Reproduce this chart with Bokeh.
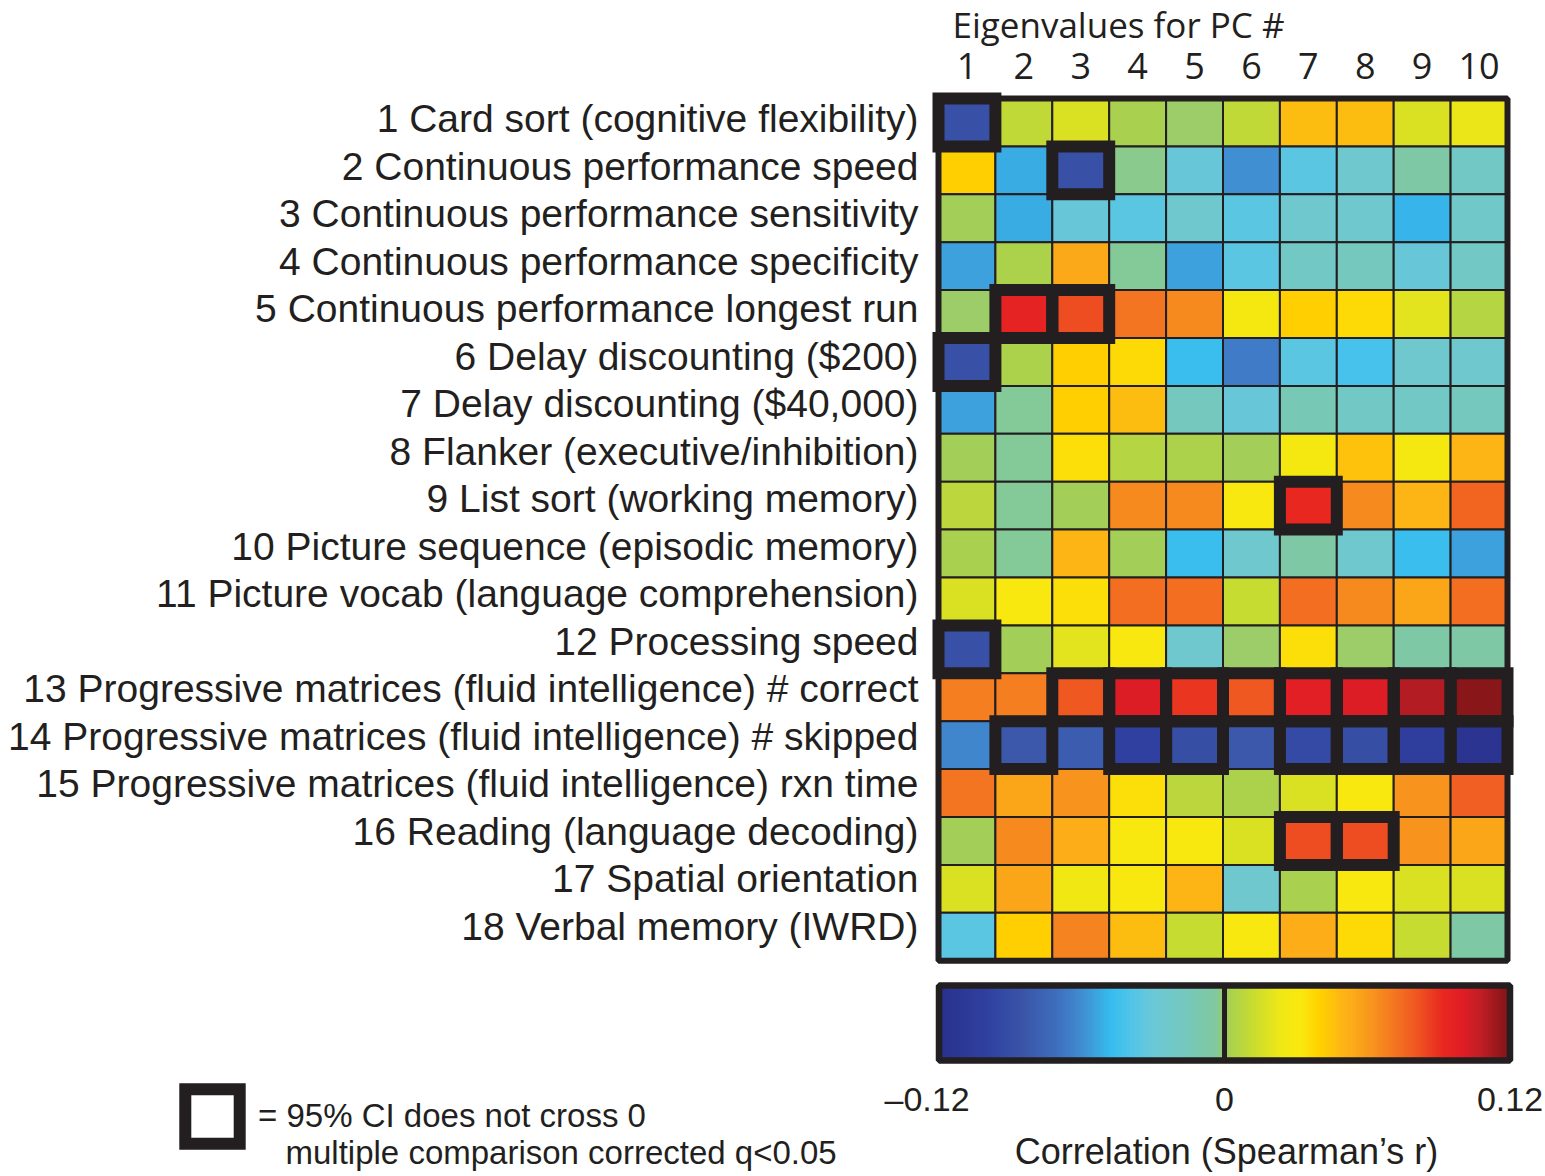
import numpy as np
from bokeh.plotting import figure
from bokeh.models import (ColumnDataSource, LinearColorMapper, ColorBar, FixedTicker,
                          Label, Legend, LegendItem, Range1d)
from bokeh.core.properties import value
from bokeh.embed import file_html
from bokeh.resources import INLINE

tasks = [
    "1 Card sort (cognitive flexibility)",
    "2 Continuous performance speed",
    "3 Continuous performance sensitivity",
    "4 Continuous performance specificity",
    "5 Continuous performance longest run",
    "6 Delay discounting ($200)",
    "7 Delay discounting ($40,000)",
    "8 Flanker (executive/inhibition)",
    "9 List sort (working memory)",
    "10 Picture sequence (episodic memory)",
    "11 Picture vocab (language comprehension)",
    "12 Processing speed",
    "13 Progressive matrices (fluid intelligence) # correct",
    "14 Progressive matrices (fluid intelligence) # skipped",
    "15 Progressive matrices (fluid intelligence) rxn time",
    "16 Reading (language decoding)",
    "17 Spatial orientation",
    "18 Verbal memory (IWRD)",
]
pcs = ["1", "2", "3", "4", "5", "6", "7", "8", "9", "10"]

# Spearman's r, rows = tasks, columns = PC 1..10
r_vals = [
    [-0.088, 0.010, 0.017, 0.002, 0.0005, 0.010, 0.047, 0.047, 0.017, 0.022],
    [0.041, -0.052, -0.088, -0.002, -0.031, -0.060, -0.036, -0.025, -0.006, -0.020],
    [0.001, -0.052, -0.031, -0.036, -0.025, -0.036, -0.025, -0.025, -0.050, -0.022],
    [-0.055, 0.003, 0.055, -0.003, -0.055, -0.036, -0.020, -0.016, -0.031, -0.020],
    [0.0005, 0.095, 0.083, 0.072, 0.065, 0.028, 0.041, 0.037, 0.020, 0.006],
    [-0.088, 0.003, 0.041, 0.037, -0.046, -0.066, -0.036, -0.043, -0.025, -0.025],
    [-0.055, -0.003, 0.041, 0.047, -0.016, -0.031, -0.014, -0.020, -0.020, -0.016],
    [0.001, -0.003, 0.035, 0.006, 0.003, 0.001, 0.028, 0.045, 0.028, 0.050],
    [0.008, -0.003, 0.001, 0.065, 0.065, 0.030, 0.092, 0.065, 0.050, 0.076],
    [0.002, -0.003, 0.050, 0.001, -0.046, -0.025, -0.006, -0.025, -0.046, -0.055],
    [0.017, 0.030, 0.035, 0.074, 0.074, 0.012, 0.074, 0.065, 0.056, 0.074],
    [-0.088, 0.001, 0.020, 0.030, -0.025, 0.0005, 0.035, 0.0005, -0.006, -0.006],
    [0.069, 0.069, 0.080, 0.101, 0.089, 0.080, 0.098, 0.101, 0.110, 0.118],
    [-0.062, -0.083, -0.080, -0.100, -0.090, -0.083, -0.092, -0.090, -0.103, -0.115],
    [0.072, 0.056, 0.062, 0.035, 0.008, 0.003, 0.017, 0.030, 0.062, 0.078],
    [0.001, 0.065, 0.053, 0.030, 0.030, 0.017, 0.083, 0.083, 0.062, 0.056],
    [0.017, 0.056, 0.025, 0.030, 0.050, -0.025, 0.002, 0.030, 0.017, 0.017],
    [-0.036, 0.041, 0.067, 0.047, 0.012, 0.030, 0.053, 0.037, 0.012, -0.006],
]

# significant cells (task #, PC #), 1-indexed
sig_task = [1, 2, 5, 5, 6, 9, 12, 13, 13, 13, 13, 13, 13, 13, 13,
            14, 14, 14, 14, 14, 14, 14, 16, 16]
sig_pc = [1, 3, 2, 3, 1, 7, 1, 3, 4, 5, 6, 7, 8, 9, 10,
          2, 4, 5, 7, 8, 9, 10, 7, 8]

cb_ticks = [-0.12, 0.0, 0.12]
cb_tick_labels = ["\u20130.12\u2002\u2009", "0", "0.12"]

title_text = "Eigenvalues for PC #"
cb_title = "Correlation (Spearman\u2019s r)"
legend_line1 = "= 95% CI does not cross 0"
legend_line2 = "multiple comparison corrected q<0.05"

# ---- colormap (custom jet-like) ----
stops = [
    (-0.120, "#29318c"), (-0.100, "#3040a0"), (-0.085, "#3a55a8"),
    (-0.070, "#3f6fbf"), (-0.058, "#3f95d5"), (-0.048, "#34bdef"),
    (-0.040, "#50c4ea"), (-0.030, "#6bc8d6"), (-0.018, "#74c8c0"),
    (-0.004, "#80c8a0"), (0.000, "#98cc70"), (0.002, "#a8d050"),
    (0.012, "#c8dc30"), (0.024, "#f0e814"), (0.032, "#fae80e"),
    (0.040, "#ffd200"), (0.050, "#fdb515"), (0.060, "#f99b1c"),
    (0.068, "#f58220"), (0.080, "#f05a22"), (0.092, "#e8281f"),
    (0.100, "#e11d25"), (0.108, "#c21e25"), (0.120, "#7e1416"),
]
sv = np.array([s[0] for s in stops])
sc = np.array([[int(h[i:i + 2], 16) for i in (1, 3, 5)] for _, h in stops], dtype=float)
palette = []
for v in np.linspace(-0.12, 0.12, 256):
    rgb = [np.interp(v, sv, sc[:, k]) for k in range(3)]
    palette.append("#%02x%02x%02x" % tuple(int(round(c)) for c in rgb))
mapper = LinearColorMapper(palette=palette, low=-0.12, high=0.12)

INK = "#231f20"
nrow, ncol = len(tasks), len(pcs)

# ---- page geometry (pixels) ----
W, H = 1543, 1174
X0, Y0 = 938.0, 98.0          # heatmap top-left corner
CW, CH = 56.9, 47.9           # cell size


def dx(px):
    return (px - X0) / CW


def dy(py):
    return (py - Y0) / CH


xs, ys, vals = [], [], []
for i in range(nrow):
    for j in range(ncol):
        xs.append(j + 0.5)
        ys.append(i + 0.5)
        vals.append(r_vals[i][j])
src = ColumnDataSource(dict(x=xs, y=ys, r=vals))
sig_src = ColumnDataSource(dict(x=[c - 0.5 for c in sig_pc], y=[t - 0.5 for t in sig_task]))

p = figure(width=W, height=H, output_backend="svg", toolbar_location=None,
           x_range=Range1d(dx(0), dx(W)), y_range=Range1d(dy(H), dy(0)),
           x_axis_type=None, y_axis_type=None, min_border=0)
p.outline_line_color = None
p.background_fill_color = "white"
p.border_fill_color = "white"

p.rect(x="x", y="y", width=1, height=1, source=src,
       fill_color={"field": "r", "transform": mapper},
       line_color=INK, line_width=2)
p.rect(x=[ncol / 2], y=[nrow / 2], width=ncol, height=nrow,
       fill_color=None, line_color=INK, line_width=6)
box_r = p.rect(x="x", y="y", width=1, height=1, source=sig_src,
               fill_color=None, line_color=INK, line_width=12, line_join="miter")

# row labels (left) and PC numbers (top)
label_y = [dy(118) + i * (47.53 / CH) for i in range(nrow)]
p.text(x=[dx(918)] * nrow, y=label_y, text=tasks,
       text_align="right", text_baseline="middle",
       text_font=value("Liberation Sans"), text_font_size="39px", text_color=INK)
p.text(x=[j + 0.5 for j in range(ncol)], y=[dy(65)] * ncol, text=pcs,
       text_align="center", text_baseline="alphabetic",
       text_font=value("Open Sans"), text_font_size="36px", text_color=INK)

p.add_layout(Label(x=dx(952), y=dy(24), text=title_text, text_font="Open Sans",
                   text_font_size="35px", text_color=INK,
                   text_baseline="alphabetic", text_align="left"))

cb = ColorBar(color_mapper=mapper, orientation="horizontal",
              location=(938.5, 54), width=571, height=75, padding=0,
              ticker=FixedTicker(ticks=cb_ticks),
              major_label_overrides={t: l for t, l in zip(cb_ticks, cb_tick_labels)},
              major_label_text_font="Liberation Sans",
              major_label_text_font_size="34px", major_label_text_color=INK,
              label_standoff=19, major_tick_in=75, major_tick_out=0,
              major_tick_line_color=INK, major_tick_line_width=5,
              minor_tick_line_color=None,
              bar_line_color=INK, bar_line_width=6.5,
              background_fill_alpha=0, border_line_color=None)
p.add_layout(cb)

p.add_layout(Label(x=dx(1226), y=dy(1151), text=cb_title, text_font="Liberation Sans",
                   text_font_size="36px", text_color=INK,
                   text_baseline="middle", text_align="center"))

legend = Legend(items=[LegendItem(label=legend_line1, renderers=[box_r])],
                location=(178, H - 1150), glyph_width=68, glyph_height=68,
                padding=0, margin=0, spacing=0, label_standoff=12,
                label_text_font="Liberation Sans", label_text_font_size="33px",
                label_text_color=INK, border_line_color=None,
                background_fill_alpha=0)
p.add_layout(legend)

p.add_layout(Label(x=dx(285), y=dy(1152), text=legend_line2, text_font="Liberation Sans",
                   text_font_size="33px", text_color=INK,
                   text_baseline="middle", text_align="left"))

open("out.html", "w").write(file_html(p, INLINE))
